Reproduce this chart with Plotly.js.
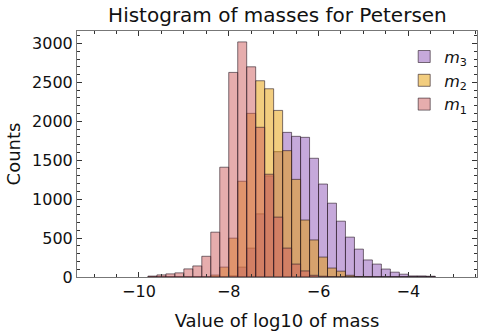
<!DOCTYPE html>
<html>
<head>
<meta charset="utf-8">
<script src="https://cdn.plot.ly/plotly-3.0.1.min.js"></script>
<style>
  html, body { margin: 0; padding: 0; background: #fff; }
  #plot { width: 480px; height: 336px; }
</style>
</head>
<body>
<div id="plot"></div>
<script>
// bin centres (bin width 0.2)
var binCenters = [-9.7, -9.5, -9.3, -9.1, -8.9, -8.7, -8.5, -8.3, -8.1, -7.9,
  -7.7, -7.5, -7.3, -7.1, -6.9, -6.7, -6.5, -6.3, -6.1, -5.9,
  -5.7, -5.5, -5.3, -5.1, -4.9, -4.7, -4.5, -4.3, -4.1, -3.9, -3.7, -3.5];

var m1Counts = [12, 27, 40, 53, 104, 142, 266, 576, 1410, 2628,
  3020, 2700, 1923, 1320, 769, 371, 166, 78, 22, 10,
  3, 0, 0, 0, 0, 0, 0, 0, 0, 0, 0, 0];

var m2Counts = [0, 0, 0, 0, 0, 0, 0, 25, 127, 499,
  1230, 2102, 2521, 2418, 2140, 1623, 1254, 732, 476, 256,
  115, 75, 22, 6, 2, 0, 0, 0, 0, 0, 0, 0];

var m3Counts = [0, 0, 0, 0, 0, 0, 0, 0, 0, 15,
  127, 371, 811, 1298, 1610, 1858, 1807, 1794, 1525, 1194,
  948, 717, 512, 358, 219, 166, 102, 62, 36, 14, 14, 10];

var seriesNames = ["<i>m</i><sub>3</sub>", "<i>m</i><sub>2</sub>", "<i>m</i><sub>1</sub>"];

function hist(y, name, fill) {
  return {
    x: binCenters,
    y: y,
    width: 0.2,
    name: name,
    type: "bar",
    marker: {
      color: fill,
      line: { color: "rgba(40,25,35,0.6)", width: 1 }
    }
  };
}

var data = [
  hist(m3Counts, seriesNames[0], "rgba(141,83,183,0.5)"),
  hist(m2Counts, seriesNames[1], "rgba(229,155,0,0.5)"),
  hist(m1Counts, seriesNames[2], "rgba(205,91,91,0.5)")
];

var axisFont = { family: "DejaVu Sans", size: 16, color: "#111" };
var titleFont = { family: "DejaVu Sans", size: 18, color: "#111" };

var layout = {
  width: 480,
  height: 336,
  margin: { l: 77, r: 3, t: 31, b: 59 },
  paper_bgcolor: "#fff",
  plot_bgcolor: "#fff",
  barmode: "overlay",
  bargap: 0,
  font: { family: "DejaVu Sans", color: "#111" },
  title: {
    text: "Histogram of masses for Petersen",
    font: { family: "DejaVu Sans", size: 20, color: "#111" },
    x: 0.578, xanchor: "center", y: 0.955, yanchor: "middle"
  },
  xaxis: {
    range: [-11.38, -2.47],
    dtick: 2,
    tick0: 0,
    ticks: "inside",
    ticklen: 5,
    tickcolor: "#333",
    showline: true,
    linecolor: "#777",
    mirror: "ticks",
    showgrid: false,
    zeroline: false,
    tickfont: axisFont,
    minor: { dtick: 0.5, ticks: "inside", ticklen: 3, tickcolor: "#333" },
    title: { text: "Value of log10 of mass", font: titleFont, standoff: 14 }
  },
  yaxis: {
    range: [0, 3160],
    dtick: 500,
    ticks: "inside",
    ticklen: 5,
    tickcolor: "#333",
    showline: true,
    linecolor: "#777",
    mirror: "ticks",
    showgrid: false,
    zeroline: false,
    tickfont: axisFont,
    minor: { dtick: 100, ticks: "inside", ticklen: 3, tickcolor: "#333" },
    title: { text: "Counts", font: titleFont, standoff: 6 }
  },
  legend: {
    x: 0.818, y: 0.965, xanchor: "left", yanchor: "top",
    bgcolor: "rgba(0,0,0,0)",
    font: { family: "DejaVu Sans", size: 16, color: "#111" },
    tracegroupgap: 0
  },
  showlegend: true
};

Plotly.newPlot("plot", data, layout, { displayModeBar: false, staticPlot: true });
</script>
</body>
</html>
